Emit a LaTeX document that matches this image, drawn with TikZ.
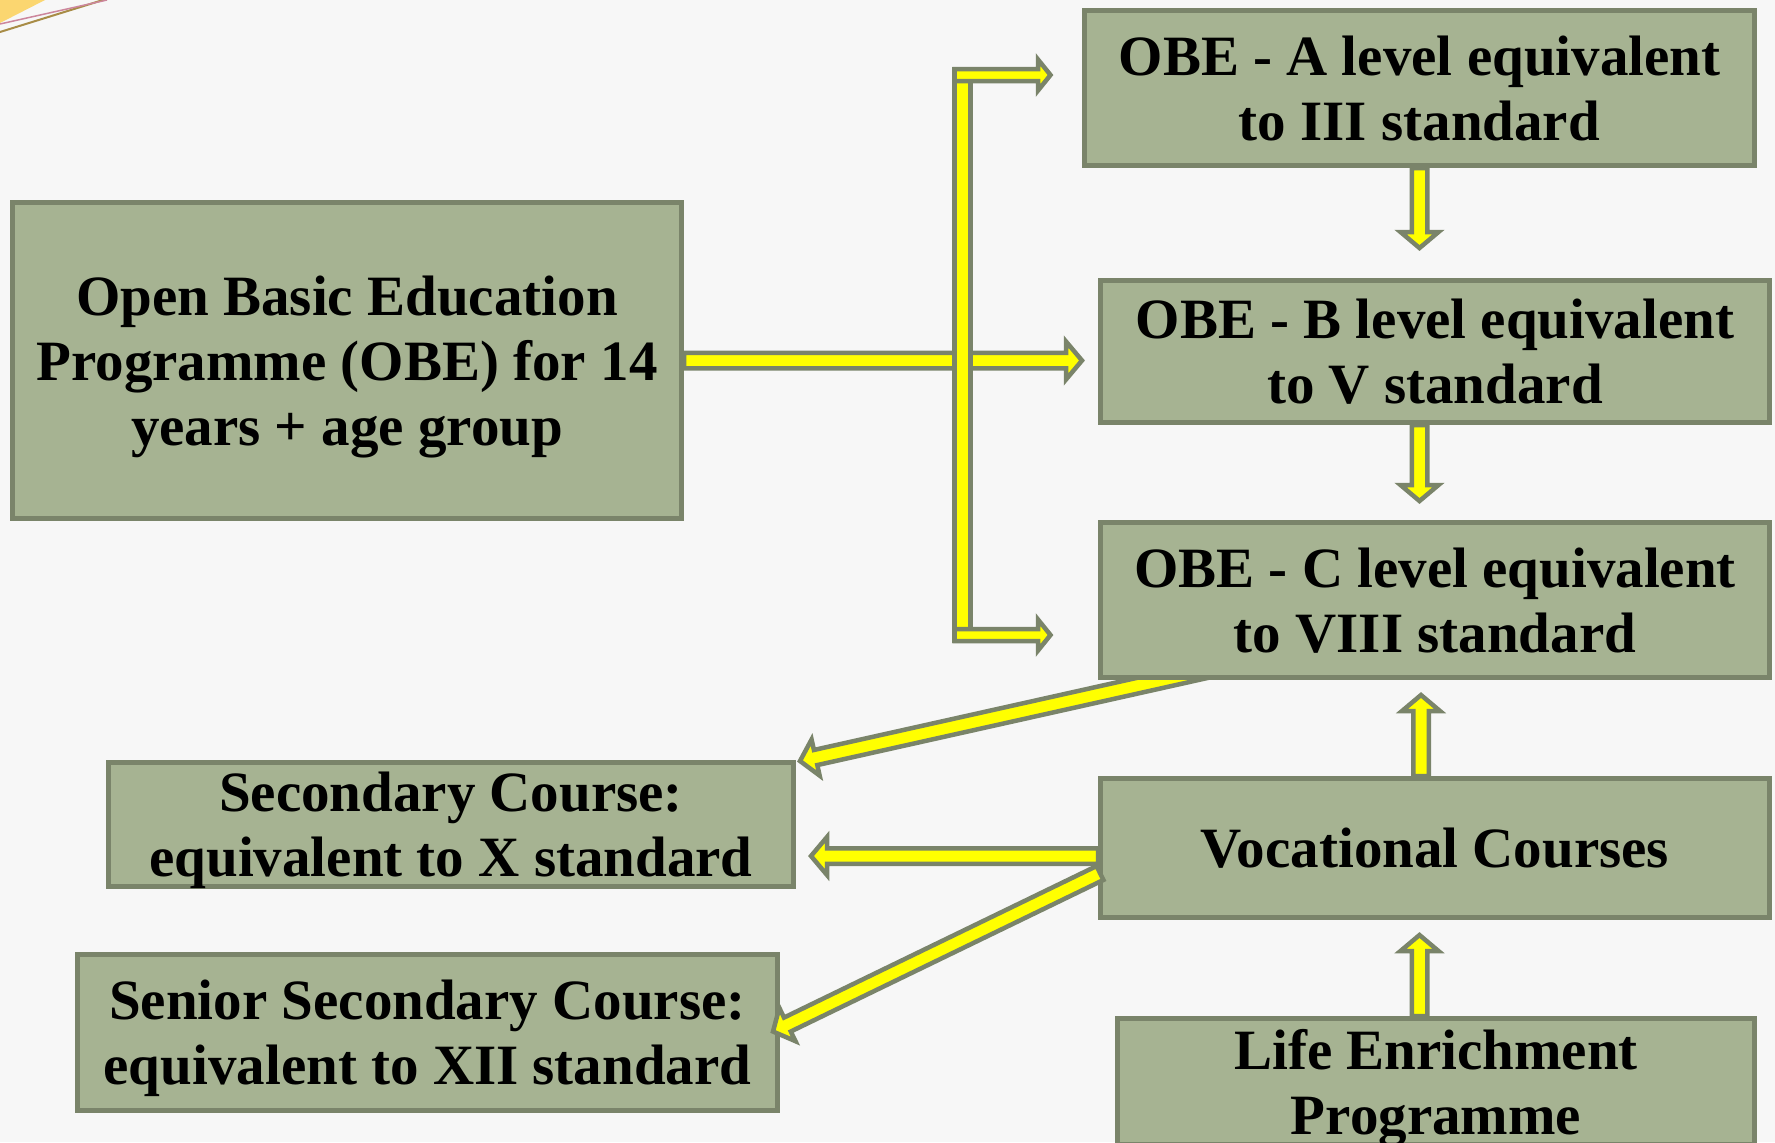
\documentclass[tikz,border=0pt]{standalone}
\usepackage{fontspec}
\setmainfont{Liberation Serif}
\usetikzlibrary{calc,backgrounds}
\definecolor{boxfill}{RGB}{166,179,146}
\definecolor{boxline}{RGB}{122,132,106}
\definecolor{arrfill}{RGB}{255,255,0}
\definecolor{pagebg}{RGB}{247,247,247}
\definecolor{decoyel}{RGB}{251,214,112}
\definecolor{decopink}{RGB}{204,134,156}
\definecolor{decogold}{RGB}{168,140,70}
\tikzset{
  box/.style={draw=boxline, fill=boxfill, line width=2pt, inner sep=0pt, align=center,
    text depth=0pt, font=\bfseries\fontsize{22.8}{26}\selectfont, text=black},
  fatarrow/.style={draw=boxline, fill=arrfill, line width=1.8pt, line join=miter, miter limit=10},
}
% #1 start, #2 tip, #3 half shaft width, #4 half head width, #5 head length
\newcommand\fatarr[5]{%
  \coordinate (fahead) at ($(#2)!#5!(#1)$);
  \path[fatarrow] ($(#1)!#3!90:(#2)$) -- ($(fahead)!#3!-90:(#1)$) -- ($(fahead)!#4!-90:(#1)$)
    -- (#2) -- ($(fahead)!#4!90:(#1)$) -- ($(fahead)!#3!90:(#1)$) -- ($(#1)!#3!-90:(#2)$) -- cycle;
}
\begin{document}
\begin{tikzpicture}[x=0.4pt, y=-0.4pt]
\useasboundingbox (0,0) rectangle (1775,1142);
\begin{pgfonlayer}{background}
  \fill[pagebg] (0,0) rectangle (1775,1142);
  \fill[decoyel] (0,0) -- (45,0) -- (0,23) -- cycle;
  \draw[decogold, line width=0.8pt] (0,32) -- (103,0);
  \draw[decopink, line width=0.6pt] (0,24) -- (107,0);
\end{pgfonlayer}
\clip (0,0) rectangle (1775,1142);

% boxes
\node[box, minimum width=267.6pt, minimum height=126.4pt] (open) at (347,360.5)
  {Open Basic Education\\Programme (OBE) for 14\\years + age group};
\node[box, minimum width=268pt, minimum height=62pt] (A) at (1419.5,88)
  {OBE - A level equivalent\\to III standard};
\node[box, minimum width=267.6pt, minimum height=56.8pt] (B) at (1435,351.5)
  {OBE - B level equivalent\\to V standard};
\node[box, minimum width=267.6pt, minimum height=62pt] (C) at (1435,600)
  {OBE - C level equivalent\\to VIII standard};
\node[box, minimum width=274pt, minimum height=49.6pt] (sec) at (451,824.5)
  {Secondary Course:\\equivalent to X standard};
\node[box, minimum width=267.6pt, minimum height=55.6pt] (voc) at (1435,848)
  {Vocational Courses};
\node[box, minimum width=280pt, minimum height=62.4pt] (senior) at (427.5,1032.5)
  {Senior Secondary Course:\\equivalent to XII standard};
\node[box, minimum width=254.8pt, minimum height=50.4pt] (life) at (1436,1081.5)
  {Life Enrichment\\Programme};

% C -> Secondary (behind box C)
\begin{pgfonlayer}{background}
  \coordinate (cs1) at ($(C.south)+(-205,-15)$);
  \coordinate (cs2) at ($(sec.north east)+(4,1)$);
  \fatarr{cs1}{cs2}{3.1pt}{7.4pt}{6.4pt}
\end{pgfonlayer}

% middle horizontal arrow
\coordinate (m2) at ($(open.east -| B.west)+(-16,0)$);
\fatarr{open.east}{m2}{3.1pt}{7.6pt}{6.4pt}

% bracket
\coordinate (brTL) at (954.5,75);
\coordinate (brTR) at (1050.5,75);
\coordinate (brBL) at (954.5,635);
\coordinate (brBR) at (1050.5,635);
\path[fatarrow] (954.5,69.5) rectangle (970.5,640.5);
\fatarr{brTL}{brTR}{2.4pt}{6.2pt}{5pt}
\fatarr{brBL}{brBR}{2.4pt}{6.2pt}{5pt}

% vertical arrows
\coordinate (ab2) at ($(A.south |- B.north)+(0,-30)$);
\fatarr{A.south}{ab2}{3.1pt}{7.6pt}{6.4pt}
\coordinate (bc1) at (A.south |- B.south);
\coordinate (bc2) at ($(A.south |- C.north)+(0,-19)$);
\fatarr{bc1}{bc2}{3.1pt}{7.6pt}{6.4pt}
\coordinate (vc1) at ($(A.south |- voc.north)+(1.5,0)$);
\coordinate (vc2) at ($(A.south |- C.south)+(1.5,15)$);
\fatarr{vc1}{vc2}{3.1pt}{7.6pt}{6.4pt}
\coordinate (lv1) at (A.south |- life.north);
\coordinate (lv2) at ($(A.south |- voc.south)+(0,15)$);
\fatarr{lv1}{lv2}{3.1pt}{7.6pt}{6.4pt}

% vocational -> secondary / senior
\coordinate (vs1) at ($(voc.west)+(0,8)$);
\coordinate (vs2) at ($(sec.east |- vs1)+(15,0)$);
\fatarr{vs1}{vs2}{3.1pt}{7.6pt}{6.4pt}
\coordinate (vr1) at ($(voc.west)+(2,25)$);
\coordinate (vr2) at ($(senior.east)+(-7,-1)$);
\fatarr{vr1}{vr2}{3.1pt}{7.4pt}{6.4pt}
\end{tikzpicture}
\end{document}
